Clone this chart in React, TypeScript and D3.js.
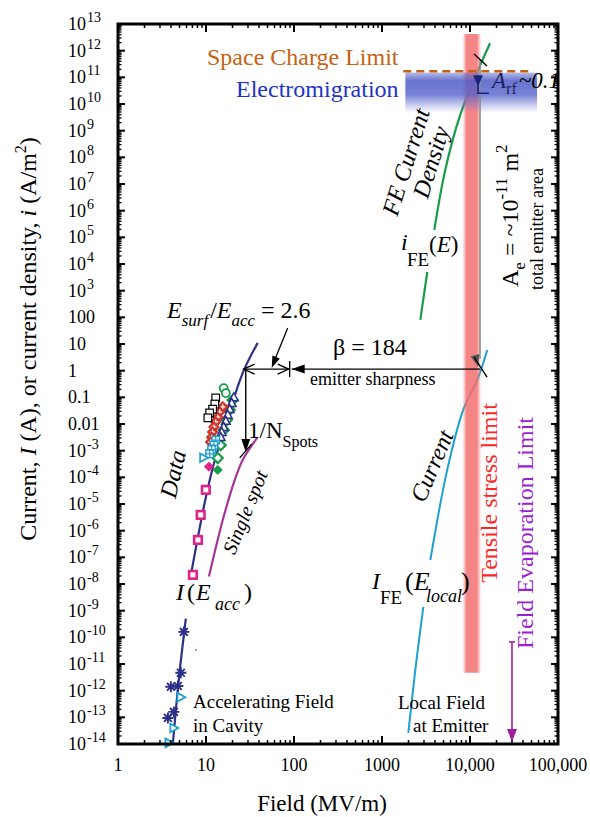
import React from "react";
import * as d3 from "d3";

const FONT = "'Liberation Serif','Times New Roman',Times,serif";

// ---------- axes ----------
const xTickValues = [1, 10, 100, 1000, 10000, 100000];
const xTickLabels = ["1", "10", "100", "1000", "10,000", "100,000"];
const yTickExps = [13, 12, 11, 10, 9, 8, 7, 6, 5, 4, 3, 2, 1, 0, -1, -2, -3, -4, -5, -6, -7, -8, -9, -10, -11, -12, -13, -14];
const yTickMain = ["10", "10", "10", "10", "10", "10", "10", "10", "10", "10", "10", "100", "10", "1", "0.1", "0.01", "10", "10", "10", "10", "10", "10", "10", "10", "10", "10", "10", "10"];
const yTickSup = ["13", "12", "11", "10", "9", "8", "7", "6", "5", "4", "3", "", "", "", "", "", "-3", "-4", "-5", "-6", "-7", "-8", "-9", "-10", "-11", "-12", "-13", "-14"];

// ---------- series ----------
// Fit of measured current vs accelerating field (navy)
const fitLowE = [4.2, 4.9, 5.9];
const fitLowI = [1e-14, 2.5e-12, 5e-10];
const fitHighE = [6.7, 9.6, 11.9, 18.6, 26.8, 38.7];
const fitHighI = [2e-8, 1e-5, 2.2e-4, 0.03, 1, 11];
// single spot (magenta)
const singleE = [10.8, 15.5, 20.7, 26.1, 38.7];
const singleI = [1.9e-8, 2.5e-6, 6.2e-5, 4.5e-4, 3.2e-3];
// FE current density i_FE(E) (green)
const feDensUpperE = [16900, 12400, 7740, 5240, 3930];
const feDensUpperI = [1.9e12, 1.9e11, 3.9e9, 3.4e7, 1.9e5];
const feDensLowerE = [3270, 2725];
const feDensLowerI = [5e3, 80];
// FE current I_FE(E_local) (cyan)
const feCurUpperE = [15700, 12100, 8370, 5510, 3540];
const feCurUpperI = [6, 0.45, 0.034, 1.9e-4, 7.9e-8];
const feCurLowerE = [2950, 2390, 1990];
const feCurLowerI = [1.4e-9, 6e-12, 2.6e-14];

// data markers
const blackSqE = [12.9, 12.6, 11.9, 11.0, 10.5];
const blackSqI = [0.095, 0.056, 0.036, 0.026, 0.017];
const greenCircE = [15.9, 16.8];
const greenCircI = [0.22, 0.145];
const greenDiaE = [20.1, 18.6, 17.2, 15.9, 14.7, 13.6];
const greenDiaI = [0.079, 0.034, 0.014, 6e-3, 1.6e-3, 5.3e-4];
const greenFillE = [13.6];
const greenFillI = [1.9e-4];
const redDiaE = [15.5, 14.3, 13.6, 12.9, 12.3, 11.9, 11.6, 11.3];
const redDiaI = [0.044, 0.028, 0.018, 0.012, 7.8e-3, 5e-3, 3.2e-3, 2.1e-3];
const navyTriE = [20.7, 19.6, 18.6, 17.7, 16.8, 15.9, 15.1, 14.7];
const navyTriI = [0.1, 0.061, 0.036, 0.022, 0.013, 7.7e-3, 5e-3, 3.2e-3];
const cyanSqE = [12.9, 12.3, 11.6, 11.0];
const cyanSqI = [2.5e-3, 1.6e-3, 1.1e-3, 7.6e-4];
const cyanTriE = [9.4, 5.18, 4.31, 3.79];
const cyanTriI = [5.4e-4, 5.7e-13, 4e-14, 1.1e-14];
const magDiaE = [10.8];
const magDiaI = [2.5e-4];
const magSqE = [9.95, 8.7, 8.1, 7.1];
const magSqI = [3.4e-5, 3.9e-6, 4.5e-7, 2.2e-8];
const starE = [5.6, 5.18, 4.79, 3.99, 4.31, 3.69];
const starI = [1.6e-10, 4.7e-12, 1.5e-12, 1.4e-12, 1.6e-13, 9.5e-14];
const magDotE = [7.66];
const magDotI = [3.4e-11];

// limits / annotations (field in MV/m, current in A or A/m^2)
const tensileE = [8200, 13400];
const tensileI = [4.2e12, 4.7e-12];
const emigE = [1843, 57800];
const emigI = [1.5e11, 4.6e9];
const spaceChargeE = [1745, 52000];
const spaceChargeI = 1.7e11;
const eAcc1A = 26.8;
const eSurf = 87;
const eLocal = 13000;
const arrowLevel = 1.15;
const spotLevel = 9e-4;
const eSpotArrow = 28.3;
const evapE = 30000;
const evapI = [6.7e-11, 1.2e-14];
const areaLineI = [4.5e11, 1.4];

// ---------- colours ----------
const NAVY = "#2c2f86";
const GREEN = "#179c4a";
const CYAN = "#1e9fcf";
const MAGLINE = "#a23595";
const MAG = "#e0238c";

const x = d3.scaleLog().domain([1, 1e5]).range([118, 558]);
const y = d3.scaleLog().domain([1e-14, 1e13]).range([744, 24]);
const pts = (E: number[], I: number[]) => E.map((e, i) => [e, I[i]] as [number, number]);
const lineGen = d3
  .line<[number, number]>()
  .x((d) => x(d[0]))
  .y((d) => y(d[1]))
  .curve(d3.curveCatmullRom.alpha(0.5));

function filledHead(tx: number, ty: number, ang: number, L = 11, Wd = 4) {
  const bx = tx - L * Math.cos(ang);
  const by = ty - L * Math.sin(ang);
  const px = -Math.sin(ang) * Wd;
  const py = Math.cos(ang) * Wd;
  return `M${tx},${ty}L${bx + px},${by + py}L${bx - px},${by - py}Z`;
}
function openHead(tx: number, ty: number, ang: number, L = 11, Wd = 5) {
  const bx = tx - L * Math.cos(ang);
  const by = ty - L * Math.sin(ang);
  const px = -Math.sin(ang) * Wd;
  const py = Math.cos(ang) * Wd;
  return `M${bx + px},${by + py}L${tx},${ty}L${bx - px},${by - py}`;
}

function Marker({ shape, cx, cy }: { shape: string; cx: number; cy: number }) {
  const s = 3.8;
  const dia = (r: number) => `M${cx},${cy - r}L${cx + r},${cy}L${cx},${cy + r}L${cx - r},${cy}Z`;
  switch (shape) {
    case "blackSq":
      return <rect x={cx - s} y={cy - s} width={2 * s} height={2 * s} fill="#fff" stroke="#000" strokeWidth={1.2} />;
    case "greenCirc":
      return <circle cx={cx} cy={cy} r={4} fill="#fff" stroke={GREEN} strokeWidth={1.8} />;
    case "greenDia":
      return <path d={dia(5)} fill="#fff" stroke={GREEN} strokeWidth={2.3} />;
    case "greenFill":
      return <path d={dia(4.5)} fill={GREEN} stroke={GREEN} strokeWidth={1} />;
    case "redDia":
      return (
        <g>
          <path d={dia(5.5)} fill="#d8342c" stroke="#c0281f" strokeWidth={0.8} />
          <path d={`M${cx - 2.5},${cy}H${cx + 2.5}M${cx},${cy - 2.5}V${cy + 2.5}`} stroke="#fff" strokeWidth={1.3} />
        </g>
      );
    case "navyTri":
      return <path d={`M${cx},${cy - 4.6}L${cx + 4.3},${cy + 3.4}L${cx - 4.3},${cy + 3.4}Z`} fill="#fff" stroke={NAVY} strokeWidth={1.5} />;
    case "cyanSq":
      return (
        <g>
          <rect x={cx - s} y={cy - s} width={2 * s} height={2 * s} fill="#fff" stroke={CYAN} strokeWidth={1.5} />
          <path d={`M${cx - s},${cy}H${cx + s}M${cx},${cy - s}V${cy + s}`} stroke={CYAN} strokeWidth={1.2} />
        </g>
      );
    case "cyanTri":
      return <path d={`M${cx + 4.5},${cy}L${cx - 3.5},${cy - 4.3}L${cx - 3.5},${cy + 4.3}Z`} fill="#fff" stroke={CYAN} strokeWidth={1.8} />;
    case "magDia":
      return <path d={dia(4.5)} fill={MAG} stroke={MAG} strokeWidth={1} />;
    case "magSq":
      return <rect x={cx - 3.8} y={cy - 3.8} width={7.6} height={7.6} fill="#fff" stroke={MAG} strokeWidth={2.6} />;
    case "star": {
      const r = 5.5;
      const d = [0, 45, 90, 135]
        .map((a) => {
          const t = (a * Math.PI) / 180;
          return `M${cx - r * Math.cos(t)},${cy - r * Math.sin(t)}L${cx + r * Math.cos(t)},${cy + r * Math.sin(t)}`;
        })
        .join("");
      return <path d={d} stroke={NAVY} strokeWidth={1.9} />;
    }
    case "magDot":
      return <circle cx={cx} cy={cy} r={0.9} fill={MAGLINE} />;
    default:
      return null;
  }
}

const markerSets: [string, number[], number[]][] = [
  ["greenDia", greenDiaE, greenDiaI],
  ["greenCirc", greenCircE, greenCircI],
  ["greenFill", greenFillE, greenFillI],
  ["navyTri", navyTriE, navyTriI],
  ["redDia", redDiaE, redDiaI],
  ["cyanSq", cyanSqE, cyanSqI],
  ["blackSq", blackSqE, blackSqI],
  ["magDia", magDiaE, magDiaI],
  ["magSq", magSqE, magSqI],
  ["cyanTri", cyanTriE, cyanTriI],
  ["star", starE, starI],
  ["magDot", magDotE, magDotI],
];

export default function App() {
  const [L, R] = x.range();
  const [B, T] = y.range();

  const xMinor: number[] = [];
  for (let d = 0; d < 5; d++) for (let m = 2; m <= 9; m++) xMinor.push(m * Math.pow(10, d));
  const yMinor: number[] = [];
  for (let d = -14; d < 13; d++) for (let m = 2; m <= 9; m++) yMinor.push(m * Math.pow(10, d));
  const yMajor = yTickExps.map((e) => Math.pow(10, e));

  const xA = x(eAcc1A);
  const xS = x(eSurf);
  const xL = x(eLocal);
  const yA = y(arrowLevel);
  const xSp = x(eSpotArrow);
  const ySp = y(spotLevel);
  const xEv = x(evapE);

  const bandX0 = x(tensileE[0]);
  const bandX1 = x(tensileE[1]);

  return (
    <svg width={590} height={817} style={{ position: "absolute", left: 0, top: 0, background: "#fff" }} fontFamily={FONT}>
      <defs>
        <linearGradient id="band" x1="0" x2="1" y1="0" y2="0">
          <stop offset="0" stopColor="#f47070" stopOpacity={0} />
          <stop offset="0.22" stopColor="#f37070" stopOpacity={0.85} />
          <stop offset="0.78" stopColor="#f37070" stopOpacity={0.85} />
          <stop offset="1" stopColor="#f47070" stopOpacity={0} />
        </linearGradient>
        <linearGradient id="emig" x1="0" x2="0" y1="0" y2="1">
          <stop offset="0" stopColor="#5a66cc" stopOpacity={0.45} />
          <stop offset="0.2" stopColor="#4e5bc8" stopOpacity={0.85} />
          <stop offset="0.55" stopColor="#5562ca" stopOpacity={0.8} />
          <stop offset="1" stopColor="#6a76d4" stopOpacity={0} />
        </linearGradient>
      </defs>

      {/* FE curves */}
      <path d={lineGen(pts(feDensUpperE, feDensUpperI)) || ""} fill="none" stroke={GREEN} strokeWidth={2.2} />
      <path d={lineGen(pts(feDensLowerE, feDensLowerI)) || ""} fill="none" stroke={GREEN} strokeWidth={2.2} />
      <path d={lineGen(pts(feCurUpperE, feCurUpperI)) || ""} fill="none" stroke={CYAN} strokeWidth={2} />
      <path d={lineGen(pts(feCurLowerE, feCurLowerI)) || ""} fill="none" stroke={CYAN} strokeWidth={2} />

      {/* tensile band & electromigration */}
      <rect x={bandX0} y={y(tensileI[0])} width={bandX1 - bandX0} height={y(tensileI[1]) - y(tensileI[0])} fill="url(#band)" />
      <rect x={x(emigE[0])} y={y(emigI[0])} width={x(emigE[1]) - x(emigE[0])} height={y(emigI[1]) - y(emigI[0])} fill="url(#emig)" />

      {/* space charge limit */}
      <line x1={x(spaceChargeE[0])} x2={x(spaceChargeE[1])} y1={y(spaceChargeI)} y2={y(spaceChargeI)} stroke="#c8610f" strokeWidth={2.6} strokeDasharray="8 5" />

      {/* area conversion line */}
      <line x1={xL} x2={xL} y1={y(areaLineI[0])} y2={y(areaLineI[1]) - 8} stroke="#8a8a8a" strokeWidth={1.5} />
      <path d={filledHead(xL - 2, y(areaLineI[1]), Math.PI / 2 - 0.25, 12, 4.5)} fill="#555" />
      <line x1={xL - 6} y1={y(areaLineI[0]) - 6} x2={xL + 7} y2={y(areaLineI[0]) + 6} stroke="#000" strokeWidth={1.4} />
      <line x1={xL - 6} y1={yA - 12} x2={xL + 7} y2={yA + 8} stroke="#000" strokeWidth={1.4} />

      {/* A_rf marker */}
      <path d={`M${xL - 2},${y(spaceChargeI) + 4}V${y(spaceChargeI) + 22}H${xL + 9}`} fill="none" stroke="#1a237e" strokeWidth={1.6} />
      <path d={filledHead(xL - 2, y(spaceChargeI) + 15, Math.PI / 2, 11, 5)} fill="#1a237e" />

      {/* navy fit and magenta single-spot */}
      <path d={lineGen(pts(fitLowE, fitLowI)) || ""} fill="none" stroke={NAVY} strokeWidth={2.2} />
      <path d={lineGen(pts(fitHighE, fitHighI)) || ""} fill="none" stroke={NAVY} strokeWidth={2.2} />
      <path d={lineGen(pts(singleE, singleI)) || ""} fill="none" stroke={MAGLINE} strokeWidth={2.2} />

      {/* markers */}
      {markerSets.map(([shape, E, I]) =>
        E.map((e, i) => <Marker key={shape + i} shape={shape} cx={x(e)} cy={y(I[i])} />)
      )}

      {/* annotation arrows */}
      <line x1={xA} x2={xS} y1={yA} y2={yA} stroke="#000" strokeWidth={1.3} />
      <path d={openHead(xA, yA, Math.PI, 11, 5)} fill="none" stroke="#000" strokeWidth={1.3} />
      <path d={openHead(xS, yA, 0, 11, 5)} fill="none" stroke="#000" strokeWidth={1.3} />
      <line x1={xS + 1} x2={xS + 1} y1={yA - 8} y2={yA + 8} stroke="#000" strokeWidth={1.3} />
      <line x1={xS + 3} x2={xL} y1={yA} y2={yA} stroke="#000" strokeWidth={1.3} />
      <path d={filledHead(xS + 3, yA, Math.PI, 13, 4.5)} fill="#000" />
      <line x1={xS - 1} y1={328} x2={xA + 29} y2={yA - 4} stroke="#000" strokeWidth={1.3} />
      <path d={filledHead(xA + 28, yA - 1, Math.atan2(yA - 1 - 328, xA + 28 - (xS - 1)), 12, 4)} fill="#000" />
      <line x1={xSp} x2={xSp} y1={yA} y2={ySp - 6} stroke="#000" strokeWidth={1.4} />
      <path d={filledHead(xSp, ySp, Math.PI / 2, 13, 4.5)} fill="#000" />
      <line x1={xSp - 6} y1={ySp + 6} x2={xSp + 6} y2={ySp - 8} stroke="#000" strokeWidth={1.4} />

      {/* field evaporation arrow */}
      <line x1={xEv} x2={xEv} y1={y(evapI[0])} y2={y(evapI[1]) - 8} stroke="#a0209a" strokeWidth={1.6} />
      <line x1={xEv - 3} x2={xEv + 3} y1={y(evapI[0])} y2={y(evapI[0])} stroke="#a0209a" strokeWidth={1.6} />
      <path d={filledHead(xEv, y(evapI[1]), Math.PI / 2, 13, 5)} fill="#a0209a" />

      {/* texts */}
      <text x={207} y={65} fontSize={24} fill="#c8610f">Space Charge Limit</text>
      <text x={236} y={97} fontSize={24} fill="#1c33c8">Electromigration</text>
      <text x={492} y={88} fontSize={23}>
        <tspan fontStyle="italic" fill="#1a1f60">A</tspan>
        <tspan fontSize={16} dy={6} fill="#1a1f60">rf</tspan>
        <tspan dy={-6} fontStyle="italic" dx={2}>~0.1</tspan>
      </text>

      <text transform="translate(406,162) rotate(-72.7)" fontSize={24} fontStyle="italic" textAnchor="middle" dominantBaseline="central">FE Current</text>
      <text transform="translate(431,162) rotate(-72.7)" fontSize={24} fontStyle="italic" textAnchor="middle" dominantBaseline="central">Density</text>

      <text y={250} fontSize={24}>
        <tspan x={401} fontStyle="italic">i</tspan>
        <tspan x={407} y={266} fontSize={19}>FE</tspan>
        <tspan x={429} y={252} fontSize={23}>(</tspan>
        <tspan fontStyle="italic" fontSize={23}>E</tspan>
        <tspan fontSize={23}>)</tspan>
      </text>

      <text transform="translate(518,287) rotate(-90)" fontSize={24}>
        A<tspan fontSize={17} dy={7}>e</tspan>
        <tspan dy={-7}> = ~10</tspan>
        <tspan fontSize={17} dy={-11}>-11</tspan>
        <tspan dy={11}> m</tspan>
        <tspan fontSize={17} dy={-11}>2</tspan>
      </text>
      <text transform="translate(543,290) rotate(-90)" fontSize={18}>total emitter area</text>

      <text transform="translate(497,493) rotate(-90)" fontSize={24} fill="#ff2626" textAnchor="middle">Tensile stress limit</text>
      <text transform="translate(533,533) rotate(-90)" fontSize={24} fill="#9b1fd1" textAnchor="middle">Field Evaporation Limit</text>

      <text y={318} fontSize={24}>
        <tspan x={167} fontStyle="italic">E</tspan>
        <tspan fontStyle="italic" fontSize={17} dy={8}>surf</tspan>
        <tspan dy={-8} dx={2}>/</tspan>
        <tspan fontStyle="italic">E</tspan>
        <tspan fontStyle="italic" fontSize={17} dy={8}>acc</tspan>
        <tspan dy={-8}> = 2.6</tspan>
      </text>
      <text x={333} y={355} fontSize={24}>β = 184</text>
      <text x={310} y={385} fontSize={18}>emitter sharpness</text>
      <text x={248} y={438} fontSize={23}>
        1/N<tspan fontSize={16} dy={9}>Spots</tspan>
      </text>

      <text transform="translate(173,474) rotate(-77)" fontSize={24} fontStyle="italic" textAnchor="middle" dominantBaseline="central">Data</text>
      <text transform="translate(245,512) rotate(-67.7)" fontSize={20} fontStyle="italic" textAnchor="middle" dominantBaseline="central">Single spot</text>
      <text transform="translate(432,466) rotate(-66.7)" fontSize={24} fontStyle="italic" textAnchor="middle" dominantBaseline="central">Current</text>

      <text y={600} fontSize={24}>
        <tspan x={176} fontStyle="italic">I</tspan>
        <tspan x={187}>(</tspan>
        <tspan x={196} fontStyle="italic">E</tspan>
        <tspan x={215} y={610} fontSize={18} fontStyle="italic">acc</tspan>
        <tspan x={244} y={600}>)</tspan>
      </text>

      <text y={589} fontSize={24}>
        <tspan x={372} fontStyle="italic">I</tspan>
        <tspan x={380} y={604} fontSize={19}>FE</tspan>
        <tspan x={405} y={590} fontSize={26}>(</tspan>
        <tspan fontStyle="italic" fontSize={26}>E</tspan>
        <tspan x={426} y={602} fontSize={18} fontStyle="italic">local</tspan>
        <tspan x={461} y={590} fontSize={26}>)</tspan>
      </text>

      <text x={193} y={708} fontSize={19}>Accelerating Field</text>
      <text x={193} y={732} fontSize={19}>in Cavity</text>
      <text x={398} y={709} fontSize={19}>Local Field</text>
      <text x={413} y={732} fontSize={19}>at Emitter</text>

      {/* frame & ticks */}
      <g stroke="#000">
        {xTickValues.map((v) => (
          <g key={"xM" + v}>
            <line x1={x(v)} x2={x(v)} y1={B} y2={B - 8} strokeWidth={2} />
            <line x1={x(v)} x2={x(v)} y1={T} y2={T + 8} strokeWidth={2} />
          </g>
        ))}
        {xMinor.map((v) => (
          <g key={"xm" + v}>
            <line x1={x(v)} x2={x(v)} y1={B} y2={B - 4} strokeWidth={1.5} />
            <line x1={x(v)} x2={x(v)} y1={T} y2={T + 4} strokeWidth={1.5} />
          </g>
        ))}
        {yMajor.map((v) => (
          <g key={"yM" + v}>
            <line x1={L} x2={L + 7} y1={y(v)} y2={y(v)} strokeWidth={2} />
            <line x1={R} x2={R - 7} y1={y(v)} y2={y(v)} strokeWidth={2} />
          </g>
        ))}
        {yMinor.map((v) => (
          <g key={"ym" + v}>
            <line x1={L} x2={L + 3.5} y1={y(v)} y2={y(v)} strokeWidth={1.3} />
            <line x1={R} x2={R - 3.5} y1={y(v)} y2={y(v)} strokeWidth={1.3} />
          </g>
        ))}
        <rect x={L} y={T} width={R - L} height={B - T} fill="none" strokeWidth={3} />
      </g>

      {/* tick labels */}
      {xTickValues.map((v, i) => (
        <text key={"xl" + v} x={x(v)} y={771} fontSize={18} textAnchor="middle">
          {xTickLabels[i]}
        </text>
      ))}
      {yTickExps.map((e, i) => (
        <text key={"yl" + e} x={68} y={y(Math.pow(10, e)) + 6} fontSize={18}>
          {yTickMain[i]}
          {yTickSup[i] ? (
            <tspan fontSize={14} dy={-8} dx={1}>
              {yTickSup[i]}
            </tspan>
          ) : null}
        </text>
      ))}

      {/* axis titles */}
      <text x={322} y={811} fontSize={23} textAnchor="middle">Field (MV/m)</text>
      <text transform="translate(36,339) rotate(-90)" fontSize={24} textAnchor="middle">
        Current, <tspan fontStyle="italic">I</tspan> (A), or current density, <tspan fontStyle="italic">i</tspan> (A/m
        <tspan fontSize={16} dy={-10}>2</tspan>
        <tspan dy={10}>)</tspan>
      </text>
    </svg>
  );
}
